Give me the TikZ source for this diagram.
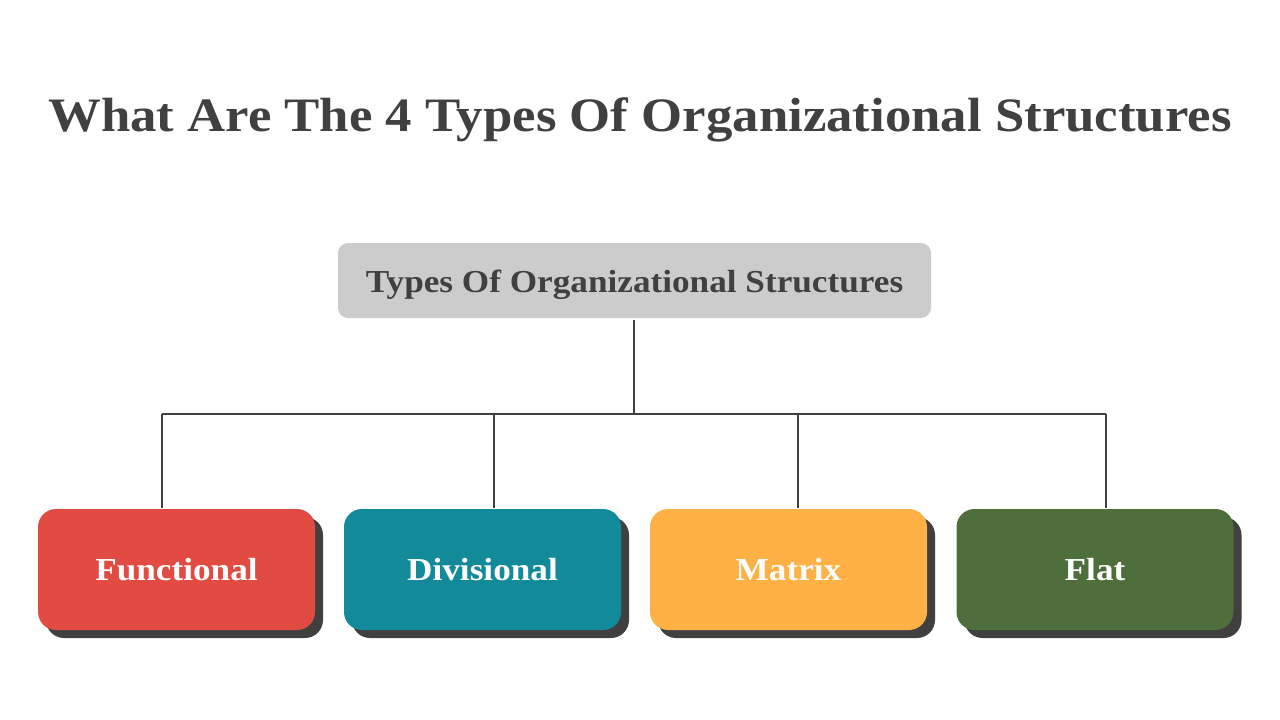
\documentclass[tikz,border=0pt]{standalone}
\usepackage{fontspec}
\setmainfont{Liberation Serif}[FakeStretch=1.1]
\definecolor{txt}{HTML}{404040}
\definecolor{topfill}{HTML}{CCCCCC}
\definecolor{cred}{HTML}{E24B42}
\definecolor{cteal}{HTML}{138A99}
\definecolor{corange}{HTML}{FFB145}
\definecolor{cgreen}{HTML}{4E6E3B}
\begin{document}
\begin{tikzpicture}[x=1pt,y=-1pt,
  conn/.style={draw=txt,line width=2pt},
  leaf/.style={rounded corners=18pt,minimum width=277pt,minimum height=121pt,inner sep=0pt,
     text=white,font=\fontsize{32}{36}\selectfont\bfseries},
  shadowbox/.style={fill=txt,rounded corners=18pt}]
\useasboundingbox (0,0) rectangle (1280,720);
\fill[white] (0,0) rectangle (1280,720);
\node[text=txt,font=\fontsize{48}{54}\selectfont\bfseries] (title) at (640,120) {What Are The 4 Types Of Organizational Structures};
\fill[topfill,rounded corners=10pt] (338,243) rectangle (931,318);
\node[text=txt,font=\fontsize{32}{36}\selectfont\bfseries,inner sep=0pt] (top) at (634.5,285) {Types Of Organizational Structures};
\coordinate (topb) at (634,320);
\foreach \n/\x/\c/\t in {f/176.5/cred/Functional, d/482.5/cteal/Divisional, m/788.5/corange/Matrix, l/1095/cgreen/Flat}{
  \fill[shadowbox] (\x-130.5,517) rectangle (\x+146.5,638);
  \node[leaf,fill=\c] (\n) at (\x,569.5) {\t};
}
\coordinate (hub) at (634,414);
\coordinate (hl) at (162,414);
\coordinate (hd) at (494,414);
\coordinate (hm) at (798,414);
\coordinate (hr) at (1106,414);
\draw[conn] (topb) -- (hub);
\draw[conn] (hl) -- (hr);
\draw[conn] (hl) -- (162,508);
\draw[conn] (hd) -- (494,508);
\draw[conn] (hm) -- (798,508);
\draw[conn] (hr) -- (1106,508);
\end{tikzpicture}
\end{document}
